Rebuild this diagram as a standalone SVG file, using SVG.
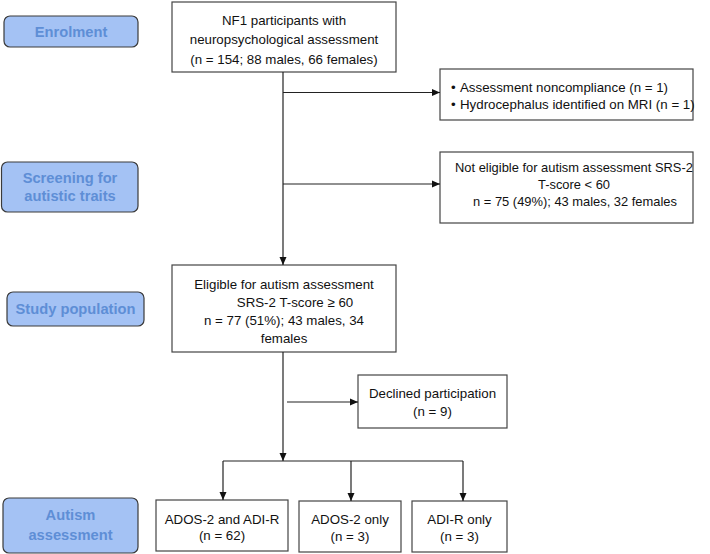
<svg xmlns="http://www.w3.org/2000/svg" width="710" height="554" viewBox="0 0 710 554">
<style>
.lbl rect{fill:#a4c2f4;stroke:#3a3a3a;stroke-width:1.2}
.lbl text{font-family:"Liberation Sans",Arial,sans-serif;font-weight:bold;font-size:14.7px;fill:#5e8ed6;text-anchor:middle}
.box rect{fill:#fff;stroke:#444;stroke-width:1.2}
.box text{font-family:"Liberation Sans",Arial,sans-serif;font-size:13.3px;fill:#111;text-anchor:middle}
.box text.l{text-anchor:start}
.box text.s{font-size:12.9px}
#connectors path{fill:none;stroke:#222;stroke-width:1.2}
</style>
<defs>
<marker id="ah" markerUnits="userSpaceOnUse" markerWidth="8" markerHeight="8" viewBox="0 0 8 8" refX="8" refY="4" orient="auto">
<path d="M0,0.5 L8,4 L0,7.5 Z" fill="#111"/>
</marker>
</defs>
<rect width="710" height="554" fill="#fff"/>
<g id="label-enrolment" class="lbl">
<rect x="4" y="16" width="134" height="31" rx="6"/>
<text x="71" y="36.5">Enrolment</text>
</g>
<g id="label-screening" class="lbl">
<rect x="1.5" y="162" width="136.5" height="50" rx="6"/>
<text x="70" y="183">Screening for</text>
<text x="70" y="201">autistic traits</text>
</g>
<g id="label-study" class="lbl">
<rect x="7" y="292" width="137" height="34" rx="6"/>
<text x="75.5" y="314">Study population</text>
</g>
<g id="label-autism" class="lbl">
<rect x="3" y="498" width="135" height="55" rx="6"/>
<text x="70.5" y="520">Autism</text>
<text x="70.5" y="540">assessment</text>
</g>
<g id="node-nf1" class="box">
<rect x="172" y="2" width="224" height="70"/>
<text x="284" y="24.5">NF1 participants with</text>
<text x="284" y="44">neuropsychological assessment</text>
<text x="284" y="63.5">(n = 154; 88 males, 66 females)</text>
</g>
<g id="node-excluded" class="box">
<rect x="440" y="69" width="253" height="51"/>
<text class="l" x="451" y="91.5">•</text>
<text class="l" x="460" y="91.5">Assessment noncompliance (n = 1)</text>
<text class="l" x="451" y="108.5">•</text>
<text class="l" x="460" y="108.5">Hydrocephalus identified on MRI (n = 1)</text>
</g>
<g id="node-noteligible" class="box">
<rect x="440" y="152" width="253" height="71"/>
<text class="s" x="574" y="171.5">Not eligible for autism assessment SRS-2</text>
<text class="s" x="574" y="188.5">T-score &lt; 60</text>
<text class="s" x="575" y="205.5">n = 75 (49%); 43 males, 32 females</text>
</g>
<g id="node-eligible" class="box">
<rect x="172" y="265" width="224" height="87"/>
<text x="284" y="288.5">Eligible for autism assessment</text>
<text x="295" y="306.5">SRS-2 T-score ≥ 60</text>
<text x="284" y="324.5">n = 77 (51%); 43 males, 34</text>
<text x="284" y="342.5">females</text>
</g>
<g id="node-declined" class="box">
<rect x="358" y="375" width="149" height="53"/>
<text x="432.5" y="397.5">Declined participation</text>
<text x="432.5" y="415.5">(n = 9)</text>
</g>
<g id="node-both" class="box">
<rect x="156" y="500" width="132" height="51"/>
<text x="222" y="523.5">ADOS-2 and ADI-R</text>
<text x="222" y="540">(n = 62)</text>
</g>
<g id="node-ados" class="box">
<rect x="299" y="501" width="102" height="51"/>
<text x="350" y="524">ADOS-2 only</text>
<text x="350" y="540.5">(n = 3)</text>
</g>
<g id="node-adir" class="box">
<rect x="412" y="501" width="95" height="51"/>
<text x="459.5" y="524">ADI-R only</text>
<text x="459.5" y="540.5">(n = 3)</text>
</g>
<g id="connectors">
<path d="M283,72 V265" marker-end="url(#ah)"/>
<path d="M283,92.5 H440" marker-end="url(#ah)"/>
<path d="M283,184 H440" marker-end="url(#ah)"/>
<path d="M283,352 V461" marker-end="url(#ah)"/>
<path d="M287,402 H358" marker-end="url(#ah)"/>
<path d="M223,461 H463"/>
<path d="M223,461 V500" marker-end="url(#ah)"/>
<path d="M351,461 V501" marker-end="url(#ah)"/>
<path d="M463,461 V501" marker-end="url(#ah)"/>
</g>
</svg>
